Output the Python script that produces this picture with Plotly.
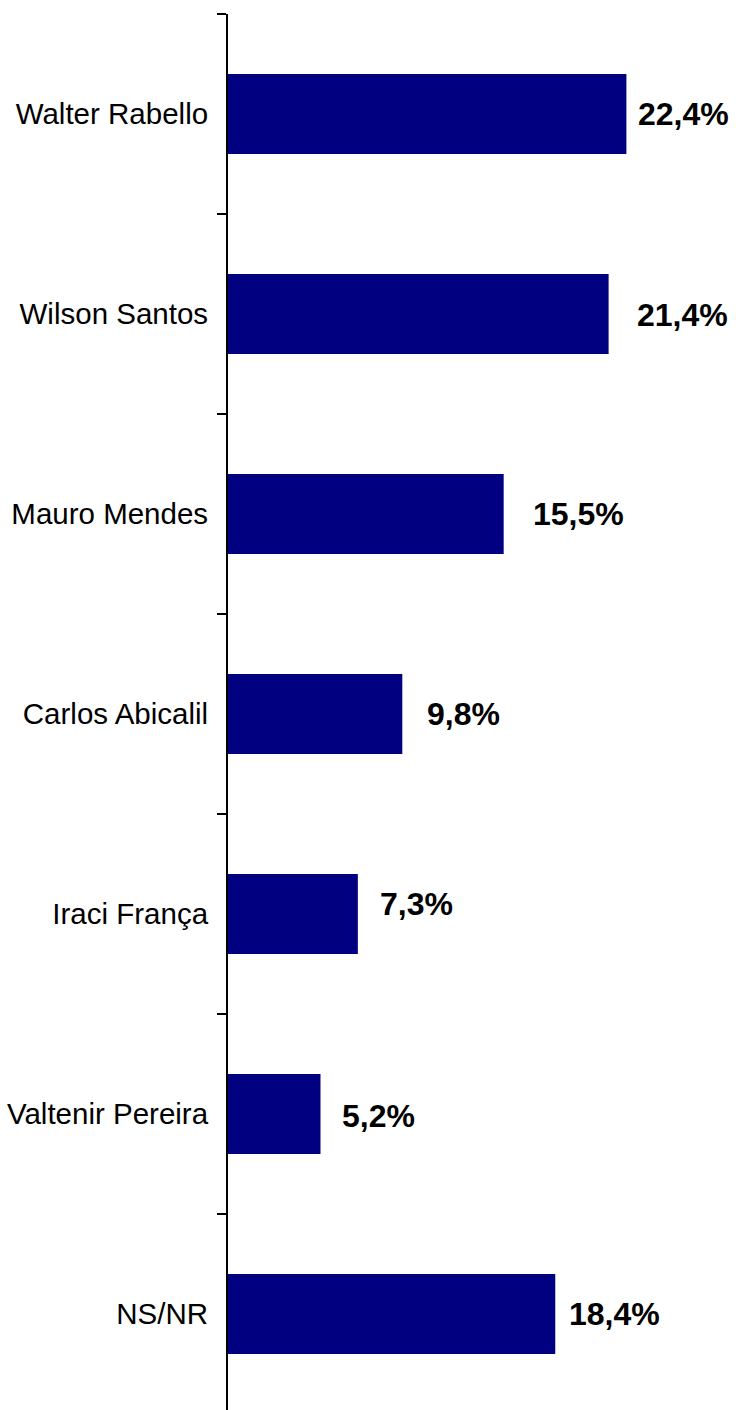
import plotly.graph_objects as go

candidates = ["Walter Rabello", "Wilson Santos", "Mauro Mendes", "Carlos Abicalil",
              "Iraci França", "Valtenir Pereira", "NS/NR"]
values = [22.4, 21.4, 15.5, 9.8, 7.3, 5.2, 18.4]
value_labels = ["22,4%", "21,4%", "15,5%", "9,8%", "7,3%", "5,2%", "18,4%"]

# label style offsets (pixels)
label_xshift = [10, 26, 27, 23, 20, 20, 12]
label_yshift = [0, -1, 0, 0, 10, -2, 0]

fig = go.Figure()
fig.add_trace(go.Bar(
    x=values, y=candidates, orientation="h",
    marker=dict(color="#000080", line=dict(width=0)),
    hoverinfo="skip",
))

for cat, v, lab, dx, dy in zip(candidates, values, value_labels, label_xshift, label_yshift):
    fig.add_annotation(
        x=v, y=cat, xref="x", yref="y", text="<b>%s</b>" % lab,
        showarrow=False, xanchor="left", yanchor="middle",
        xshift=dx, yshift=dy,
        font=dict(family="Liberation Sans, Arial, sans-serif", size=32, color="black"),
    )

fig.update_layout(
    width=736, height=1410,
    margin=dict(l=228, r=10, t=14, b=0),
    paper_bgcolor="white", plot_bgcolor="white",
    bargap=0.6, showlegend=False,
    font=dict(family="Liberation Sans, Arial, sans-serif", color="black"),
)
fig.update_xaxes(visible=False, range=[0, 28], fixedrange=True)
fig.update_yaxes(
    type="category", categoryorder="array", categoryarray=candidates,
    range=[6.48, -0.5],
    showline=True, linewidth=2, linecolor="black",
    ticks="outside", tickson="boundaries", ticklen=9, tickwidth=2, tickcolor="black",
    tickfont=dict(size=29.5, color="black", family="Liberation Sans, Arial, sans-serif"),
    ticklabelstandoff=12,
    showgrid=False, zeroline=False, fixedrange=True,
)

fig.write_html("out.html", config={"displayModeBar": False},
               post_script="document.body.style.margin='0';document.body.style.overflow='hidden';")
